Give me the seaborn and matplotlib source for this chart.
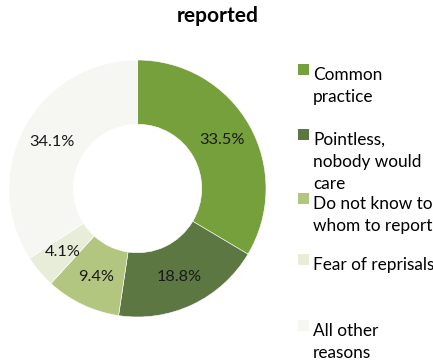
import matplotlib
matplotlib.use("Agg")
import matplotlib.pyplot as plt
import numpy as np
import seaborn as sns
from matplotlib.patches import Rectangle

categories = ["Common\npractice", "Pointless,\nnobody would\ncare",
              "Do not know to\nwhom to report", "Fear of reprisals",
              "All other\nreasons"]
shares = [33.5, 18.8, 9.4, 4.1, 34.1]
colors = ["#76a03c", "#5d7742", "#b3c67f", "#e8edd9", "#f6f7f2"]
title = "reported"

sns.set_theme(style="white")
plt.rcParams["font.family"] = ["Lato", "DejaVu Sans"]

W, H = 433, 360
fig = plt.figure(figsize=(W / 100, H / 100), dpi=100)

# donut: centre (137.5, 188.5) px, radius 128.5 px
cx, cy, r = 137.5, 188.5, 128.5
ax = fig.add_axes([(cx - r) / W, 1 - (cy + r) / H, 2 * r / W, 2 * r / H])
wedges, _ = ax.pie(shares, colors=colors, startangle=90, counterclock=False,
                   radius=1.0, wedgeprops=dict(width=0.5, edgecolor="white", linewidth=0.4))
ax.set_xlim(-1, 1)
ax.set_ylim(-1, 1)
ax.set_aspect("equal")
ax.axis("off")

# percentage labels in the middle of the ring
ang0 = 90.0
for v in shares:
    mid = np.deg2rad(ang0 - v * 3.6 / 2)
    ax.text(0.76 * np.cos(mid), 0.76 * np.sin(mid), f"{v:.1f}%",
            ha="center", va="center", fontsize=11.8, color="#1a1a1a")
    ang0 -= v * 3.6

fig.text(218 / W, 1 - 16 / H, title, ha="center", va="center",
         fontsize=15, fontweight="bold", color="black")

# legend
tops = [64, 129, 193, 254, 320]
for lab, col, t in zip(categories, colors, tops):
    fig.patches.append(Rectangle((298 / W, 1 - (t + 11) / H), 11 / W, 11 / H,
                                 transform=fig.transFigure, facecolor=col,
                                 edgecolor="none"))
    fig.text(313 / W, 1 - (t + 3) / H, lab, ha="left", va="top",
             fontsize=12.4, linespacing=1.45, color="black")

fig.savefig("out.png", dpi=100)
